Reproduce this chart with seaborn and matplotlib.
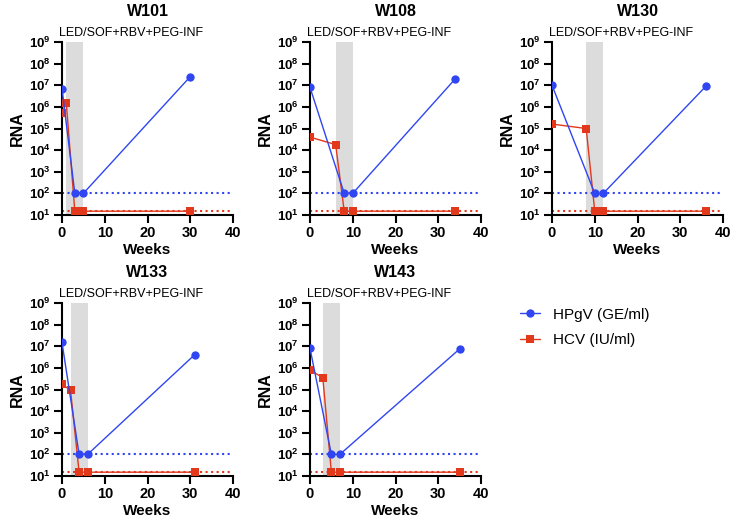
import numpy as np
import pandas as pd
import matplotlib
matplotlib.use("Agg")
import matplotlib.pyplot as plt
import seaborn as sns
from matplotlib.lines import Line2D

# Data
subjects = ["W101", "W108", "W130", "W133", "W143"]

hpgv_weeks = {
    "W101": [0, 3, 5, 30],
    "W108": [0, 8, 10, 34],
    "W130": [0, 10, 12, 36],
    "W133": [0, 4, 6, 31],
    "W143": [0, 5, 7, 35],
}
hpgv_rna = {
    "W101": [7e6, 100, 100, 2.5e7],
    "W108": [8e6, 100, 100, 2e7],
    "W130": [1e7, 100, 100, 9e6],
    "W133": [1.5e7, 100, 100, 4e6],
    "W143": [8e6, 100, 100, 7.5e6],
}
hcv_weeks = {
    "W101": [0, 1, 3, 5, 30],
    "W108": [0, 6, 8, 10, 34],
    "W130": [0, 8, 10, 12, 36],
    "W133": [0, 2, 4, 6, 31],
    "W143": [0, 3, 5, 7, 35],
}
hcv_rna = {
    "W101": [5e5, 1.5e6, 15, 15, 15],
    "W108": [4e4, 1.8e4, 15, 15, 15],
    "W130": [1.6e5, 1e5, 15, 15, 15],
    "W133": [1.8e5, 9e4, 15, 15, 15],
    "W143": [8e5, 3.5e5, 15, 15, 15],
}
treatment = {
    "W101": (1, 5),
    "W108": (6, 10),
    "W130": (8, 12),
    "W133": (2, 6),
    "W143": (3, 7),
}
hpgv_lod = 100
hcv_lod = 15

BLUE = "#2f46f2"
RED = "#e2381b"

sns.set_theme(style="ticks")
plt.rcParams["font.family"] = ["Liberation Sans", "DejaVu Sans"]
plt.rcParams["mathtext.fontset"] = "custom"
plt.rcParams["mathtext.bf"] = "Liberation Sans:bold"
plt.rcParams["mathtext.rm"] = "Liberation Sans"
for key in ["text.color", "axes.labelcolor", "xtick.color", "ytick.color"]:
    plt.rcParams[key] = "black"

fig = plt.figure(figsize=(7.3, 5.19), dpi=100)

W, H = 730, 519
boxes = {
    "W101": (62, 42),
    "W108": (310, 42),
    "W130": (552, 42),
    "W133": (62, 303),
    "W143": (310, 303),
}
aw, ah = 171, 173

for s in subjects:
    x0, y0 = boxes[s]
    ax = fig.add_axes([x0 / W, 1 - (y0 + ah) / H, aw / W, ah / H])

    t0, t1 = treatment[s]
    ax.axvspan(t0, t1, color="#dcdcdc", lw=0, zorder=0)
    ax.axhline(hpgv_lod, color=BLUE, ls=":", lw=1.5, zorder=1)
    ax.axhline(hcv_lod, color=RED, ls=":", lw=1.5, zorder=1)

    df_hcv = pd.DataFrame({"Weeks": hcv_weeks[s], "RNA": hcv_rna[s]})
    df_hpgv = pd.DataFrame({"Weeks": hpgv_weeks[s], "RNA": hpgv_rna[s]})
    sns.lineplot(data=df_hcv, x="Weeks", y="RNA", ax=ax, color=RED, marker="s",
                 markersize=5.5, markeredgewidth=0, lw=1, zorder=3)
    sns.lineplot(data=df_hpgv, x="Weeks", y="RNA", ax=ax, color=BLUE, marker="o",
                 markersize=6, markeredgewidth=0, lw=1, zorder=4)

    ax.set_yscale("log")
    ax.set_ylim(10, 1e9)
    ax.set_xlim(0, 40)
    ax.set_yticks([10.0 ** k for k in range(1, 10)])
    ax.set_yticklabels([r"$\mathbf{10^{%d}}$" % k for k in range(1, 10)])
    ax.minorticks_off()
    ax.set_xticks([0, 10, 20, 30, 40])
    ax.tick_params(axis="both", width=1.5, length=5.5, labelsize=9.5, pad=2.5)
    for lab in ax.get_xticklabels():
        lab.set_fontweight("bold")
        lab.set_fontsize(10.5)
    for sp in ["top", "right"]:
        ax.spines[sp].set_visible(False)
    for sp in ["left", "bottom"]:
        ax.spines[sp].set_linewidth(1.5)
        ax.spines[sp].set_color("black")
    ax.set_xlabel("Weeks", fontsize=11, fontweight="bold", labelpad=2)
    ax.set_ylabel("RNA", fontsize=11.5, fontweight="bold", labelpad=3)
    ax.set_title(s, fontsize=11.5, fontweight="bold", pad=19)
    ax.text(-0.02, 1.015, "LED/SOF+RBV+PEG-INF", transform=ax.transAxes,
            ha="left", va="bottom", fontsize=9)

handles = [
    Line2D([], [], color=BLUE, marker="o", markersize=6, markeredgewidth=0, lw=1),
    Line2D([], [], color=RED, marker="s", markersize=5.5, markeredgewidth=0, lw=1),
]
fig.legend(handles, ["HPgV (GE/ml)", "HCV (IU/ml)"], loc="center left",
           bbox_to_anchor=(520 / W, 1 - 327.5 / H), frameon=False, fontsize=11,
           handlelength=1.3, handletextpad=0.85, labelspacing=0.75,
           borderpad=0, borderaxespad=0)

fig.savefig("out.png", dpi=100)
